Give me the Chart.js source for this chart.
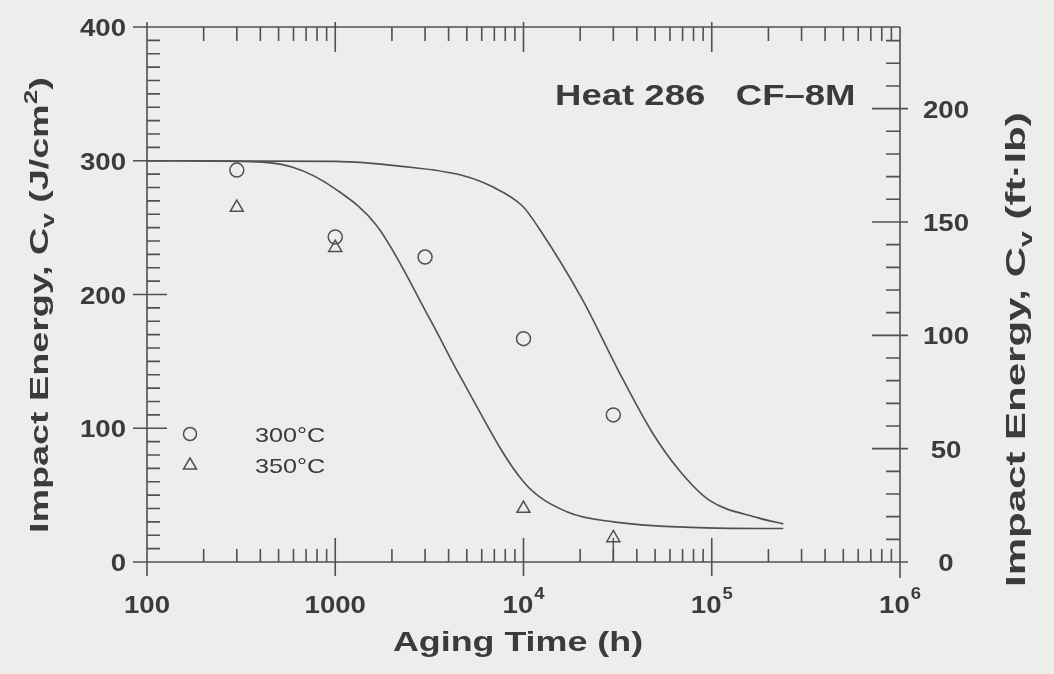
<!DOCTYPE html>
<html>
<head>
<meta charset="utf-8">
<script src="https://cdn.jsdelivr.net/npm/chart.js@4.4.1/dist/chart.umd.min.js"></script>
<style>
  html, body { margin: 0; padding: 0; background: #ededeb; }
  #wrap { width: 1054px; height: 674px; }
</style>
</head>
<body>
<div id="wrap"><canvas id="impact"></canvas></div>
<script>
// Aging curves (fitted), J/cm2 against hours
const fitTime350 = [100, 300, 600, 1000, 1670, 3200, 4600, 10000, 17000, 30000, 93000, 240000];
const fitCv350 = [300, 299.5, 295, 279, 251, 181, 139, 60, 37.5, 30, 25.5, 25];
const fitTime300 = [100, 1000, 2200, 4750, 6850, 9900, 12150, 20500, 32200, 48200, 66800, 96400, 177000, 240000];
const fitCv300 = [300, 299.5, 296, 289, 280.5, 266, 249, 196.5, 142, 97, 69, 46.5, 33, 28.5];

// Measured Charpy energies
const testTime300 = [300, 1000, 3000, 10000, 30000];
const testCv300 = [293, 243, 228, 167, 110];
const testTime350 = [300, 1000, 10000, 30000];
const testCv350 = [265, 235, 40, 18];

// Axis labels
const timeTicks = [100, 1000, 1e4, 1e5, 1e6];
const timeTickBase = ['100', '1000', '10', '10', '10'];
const timeTickExp = ['', '', '4', '5', '6'];
const cvTicks = [0, 100, 200, 300, 400];
const ftlbTicks = [0, 50, 100, 150, 200];

const JCM2_TO_FTLB = 0.8 / 1.3558;
const INK = '#3b3b3b';
const LINE = '#505050';
const PAPER = '#ededeb';
const FAMILY = '"Liberation Sans", Arial, sans-serif';

function pts(xs, ys) {
    return xs.map((x, i) => ({ x: x, y: ys[i] }));
}

// draws text stretched along its own direction
function drawText(ctx, str, x, y, font, align, sx, rot) {
    ctx.save();
    ctx.translate(x, y);
    if (rot) ctx.rotate(rot);
    ctx.scale(sx, 1);
    ctx.font = font;
    ctx.textAlign = align || 'left';
    ctx.textBaseline = 'alphabetic';
    ctx.fillStyle = INK;
    ctx.fillText(str, 0, 0);
    ctx.restore();
}

function textWidth(ctx, str, font, sx) {
    ctx.font = font;
    return ctx.measureText(str).width * sx;
}

// rotated axis title with sub/superscripts, written bottom-to-top
function drawRotatedTitle(ctx, parts, x, yStart, sx) {
    let along = 0;
    parts.forEach(p => {
        drawText(ctx, p.text, x + (p.shift || 0), yStart - along, p.font, 'left', sx, -Math.PI / 2);
        along += textWidth(ctx, p.text, p.font, sx);
    });
}

const frame = {
    id: 'frame',
    beforeDraw(chart) {
        const ctx = chart.ctx;
        ctx.save();
        ctx.fillStyle = PAPER;
        ctx.fillRect(0, 0, chart.width, chart.height);
        ctx.restore();
    },
    afterDatasetsDraw(chart) {
        const ctx = chart.ctx;
        const xs = chart.scales.x, ys = chart.scales.y, y2 = chart.scales.y2;
        const a = chart.chartArea;
        ctx.save();
        ctx.strokeStyle = LINE;
        ctx.lineWidth = 1.6;
        ctx.beginPath();
        // box
        ctx.moveTo(a.left, a.top); ctx.lineTo(a.left, a.bottom + 13);
        ctx.moveTo(a.left - 14, a.bottom); ctx.lineTo(a.right, a.bottom);
        ctx.moveTo(a.left, a.top); ctx.lineTo(a.right, a.top);
        ctx.moveTo(a.right, a.top); ctx.lineTo(a.right, a.bottom + 16);

        // log ticks, bottom and top
        for (let d = 2; d < 6; d++) {
            for (let k = 1; k < 10; k++) {
                const px = xs.getPixelForValue(k * Math.pow(10, d));
                if (k === 1) {
                    ctx.moveTo(px, a.bottom - 24); ctx.lineTo(px, a.bottom + 14);
                    ctx.moveTo(px, a.top - 5); ctx.lineTo(px, a.top + 25);
                } else {
                    ctx.moveTo(px, a.bottom - 13); ctx.lineTo(px, a.bottom);
                    ctx.moveTo(px, a.top); ctx.lineTo(px, a.top + 14);
                }
            }
        }
        // left ticks every 10 J/cm2
        for (let v = 0; v <= 400; v += 10) {
            const py = ys.getPixelForValue(v);
            if (v % 100 === 0) {
                ctx.moveTo(a.left - 14, py); ctx.lineTo(a.left + 20, py);
            } else {
                ctx.moveTo(a.left, py); ctx.lineTo(a.left + 13, py);
            }
        }
        // right ticks every 10 ft-lb
        for (let v = 0; v <= y2.max; v += 10) {
            const py = y2.getPixelForValue(v);
            if (v % 50 === 0) {
                ctx.moveTo(a.right - 28, py); ctx.lineTo(a.right + 8, py);
            } else {
                ctx.moveTo(a.right - 14, py); ctx.lineTo(a.right, py);
            }
        }
        ctx.stroke();

        // tick labels
        const tickFont = 'bold 24px ' + FAMILY;
        const supFont = 'bold 16px ' + FAMILY;
        cvTicks.forEach(v => {
            drawText(ctx, String(v), a.left - 21, ys.getPixelForValue(v) + 9, tickFont, 'right', 1.15);
        });
        ftlbTicks.forEach(v => {
            drawText(ctx, String(v), a.right + 46, y2.getPixelForValue(v) + 9, tickFont, 'center', 1.15);
        });
        timeTicks.forEach((v, i) => {
            const px = xs.getPixelForValue(v);
            const wb = textWidth(ctx, timeTickBase[i], tickFont, 1.15);
            const we = timeTickExp[i] ? textWidth(ctx, timeTickExp[i], supFont, 1.15) + 1 : 0;
            const x0 = px - (wb + we) / 2;
            drawText(ctx, timeTickBase[i], x0, a.bottom + 51, tickFont, 'left', 1.15);
            if (we) drawText(ctx, timeTickExp[i], x0 + wb + 1, a.bottom + 37, supFont, 'left', 1.15);
        });

        // axis titles
        drawText(ctx, 'Aging Time (h)', 518, 651, 'bold 28px ' + FAMILY, 'center', 1.28);

        const lf = 'bold 26px ' + FAMILY;
        const ls = 'bold 18px ' + FAMILY;
        drawRotatedTitle(ctx, [
            { text: 'Impact Energy, C', font: lf },
            { text: 'v', font: ls, shift: 6 },
            { text: ' (J/cm', font: lf },
            { text: '2', font: ls, shift: -11 },
            { text: ')', font: lf }
        ], 48, 533, 1.45);
        const rf = 'bold 28px ' + FAMILY;
        const rs = 'bold 19px ' + FAMILY;
        drawRotatedTitle(ctx, [
            { text: 'Impact Energy, C', font: rf },
            { text: 'v', font: rs, shift: 7 },
            { text: ' (ft\u00b7lb)', font: rf }
        ], 1025, 587, 1.5);

        // label and legend
        drawText(ctx, 'Heat 286   CF\u20138M', 555, 105, 'bold 29px ' + FAMILY, 'left', 1.26);
        ctx.lineWidth = 1.5;
        ctx.beginPath();
        ctx.arc(190, 434, 6.5, 0, Math.PI * 2);
        ctx.stroke();
        ctx.beginPath();
        ctx.moveTo(190, 458); ctx.lineTo(196.5, 469); ctx.lineTo(183.5, 469); ctx.closePath();
        ctx.stroke();
        const legFont = '21px ' + FAMILY;
        drawText(ctx, '300\u00b0C', 255, 442, legFont, 'left', 1.2);
        drawText(ctx, '350\u00b0C', 255, 473, legFont, 'left', 1.2);
        ctx.restore();
    }
};

const stemTime = testTime350[testTime350.length - 1];

new Chart(document.getElementById('impact').getContext('2d'), {
    type: 'scatter',
    data: {
        datasets: [
            {
                label: '350 fit',
                data: pts(fitTime350, fitCv350),
                showLine: true,
                borderColor: LINE,
                borderWidth: 1.6,
                pointRadius: 0,
                cubicInterpolationMode: 'monotone'
            },
            {
                label: '300 fit',
                data: pts(fitTime300, fitCv300),
                showLine: true,
                borderColor: LINE,
                borderWidth: 1.6,
                pointRadius: 0,
                cubicInterpolationMode: 'monotone'
            },
            {
                label: 'stem',
                data: [{ x: stemTime, y: 0 }, { x: stemTime, y: testCv350[testCv350.length - 1] }],
                showLine: true,
                borderColor: LINE,
                borderWidth: 1.5,
                pointRadius: 0
            },
            {
                label: '300\u00b0C',
                data: pts(testTime300, testCv300),
                pointStyle: 'circle',
                pointRadius: 7,
                borderColor: LINE,
                borderWidth: 1.5,
                backgroundColor: 'rgba(0,0,0,0)'
            },
            {
                label: '350\u00b0C',
                data: pts(testTime350, testCv350),
                pointStyle: 'triangle',
                pointRadius: 7.5,
                borderColor: LINE,
                borderWidth: 1.5,
                backgroundColor: PAPER
            }
        ]
    },
    options: {
        responsive: true,
        maintainAspectRatio: false,
        animation: false,
        layout: { padding: { left: 147, right: 154, top: 27, bottom: 112 } },
        plugins: { legend: { display: false }, tooltip: { enabled: false } },
        scales: {
            x: { type: 'logarithmic', min: 100, max: 1e6, display: false },
            y: { min: 0, max: 400, display: false },
            y2: { min: 0, max: 400 * JCM2_TO_FTLB, display: false, position: 'right' }
        }
    },
    plugins: [frame]
});
</script>
</body>
</html>
